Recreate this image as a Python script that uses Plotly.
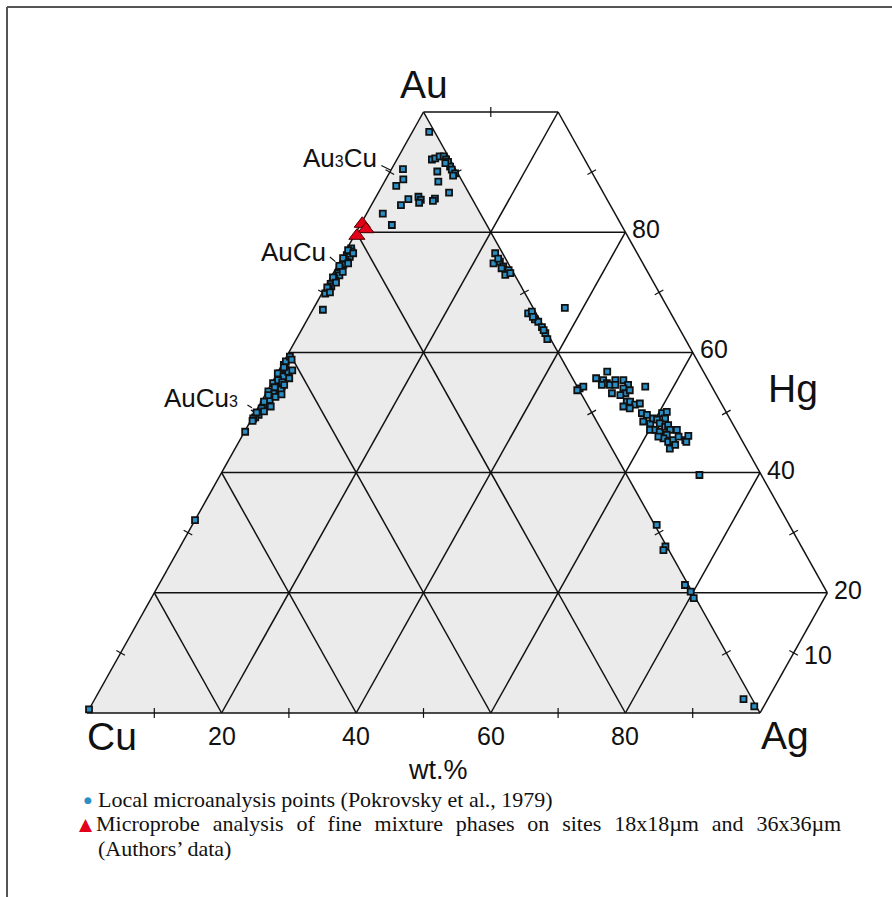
import plotly.graph_objects as go

# ---------------- data ----------------
levels = [0, 20, 40, 60, 80, 100]          # lattice levels (wt.%)
MAXSUM = 120                               # Au+Ag(Hg) limit of the drawn lattice
base_ticks = [20, 40, 60, 80]
right_ticks = [80, 60, 40, 20]
right_mid_tick = [10]

# Local microanalysis points (Pokrovsky et al., 1979): Au wt.% and Ag(+Hg) wt.%
loc_au = [96.7, 92.1, 92.3, 92.6, 92.6, 92.1, 91.7, 90.9, 90.4, 89.8, 90.1, 88.4,
          90.5, 88.8, 87.7, 85.5, 84.5, 85.9, 85.4, 84.9, 85.6, 85.2, 86.6, 83.1,
          81.2, 91.5, 89.4,
          77.3, 76.8, 76.2, 75.9, 75.4, 75.0, 74.6, 74.1, 73.7, 73.2, 72.8, 72.3,
          71.9, 71.4, 71.0, 70.6, 70.2, 69.8, 67.1,
          77.0, 76.5, 75.7, 74.8, 74.4, 73.4, 72.5, 71.6, 70.8, 70.0,
          57.9, 56.5, 56.5, 56.0, 54.9, 55.4, 54.3, 53.2, 53.5, 52.1, 51.3, 50.7,
          49.6, 49.2, 49.0, 58.5, 59.3, 57.2, 56.8, 55.0, 53.8, 52.6, 51.8, 50.2,
          54.2, 57.5, 52.9, 58.8, 57.0, 55.7, 54.6, 53.0, 51.0, 50.0, 48.6,
          46.8, 32.1, 0.6,
          76.5, 74.8, 75.1, 74.3, 73.7, 72.9, 74.0, 75.6, 73.2,
          66.5, 66.8, 65.5, 65.1, 64.2, 63.2, 62.2, 65.9, 63.7, 67.4,
          54.0, 54.3, 53.7, 56.8, 55.4, 54.9, 54.6, 54.6, 55.4, 54.6, 55.4, 54.6,
          54.0, 53.2, 53.2, 53.7, 54.3, 51.8, 51.8, 51.3, 51.5, 51.0, 50.7, 49.9,
          49.6, 48.5, 48.2, 49.0, 48.8, 49.9, 50.1, 49.0, 48.2, 47.1, 47.1, 46.8,
          47.6, 47.9, 47.1, 46.3, 45.7, 46.0, 45.1, 45.4, 47.1, 46.0, 44.0, 44.6,
          45.4, 46.1, 45.1, 55.7, 52.9, 39.6,
          31.3, 27.7, 27.1, 21.3, 19.1, 20.2, 2.3, 1.1]
loc_ag = [2.5, 5.2, 5.6, 6.1, 6.7, 7.3, 7.8, 8.5, 9.0, 9.8, 7.0, 8.0,
          1.7, 2.6, 2.1, 5.0, 4.4, 6.3, 6.9, 6.9, 8.9, 8.8, 10.5, 2.4,
          4.7, 7.5, 9.7,
          0.6, 0.9, 0.5, 1.1, 0.7, 1.2, 0.8, 0.5, 1.0, 0.7, 1.1, 0.6,
          0.9, 0.5, 0.8, 0.6, 0.9, 0.5, 1.5,
          0.3, 1.3, 0.2, 1.4, 0.3, 1.3, 0.3, 1.2, 0.3, 1.1,
          0.3, 0.4, 0.1, 1.2, 0.2, 0.7, 1.8, 1.1, 0.2, 1.1, 0.6, 0.6,
          0.7, 0.4, 0.2, 0.3, 0.5, 0.9, 1.5, 1.5, 1.9, 1.7, 0.4, 1.2,
          0.8, 0.5, 0.5, 1.0, 2.0, 2.2, 2.0, 2.4, 1.8, 0.2, 0.3,
          0.1, 0.0, 0.0,
          22.4, 23.0, 23.8, 24.7, 25.8, 25.7, 24.6, 23.3, 26.3,
          32.3, 32.7, 33.8, 34.5, 35.5, 36.5, 37.3, 33.3, 36.0, 37.3,
          46.2, 46.6, 46.0, 48.9, 49.0, 49.8, 49.2, 50.4, 50.8, 51.2, 52.0, 53.1,
          52.7, 51.4, 53.4, 53.8, 55.8, 54.3, 54.8, 55.8, 56.4, 54.2, 55.3, 57.5,
          58.4, 58.4, 59.6, 59.6, 60.3, 60.5, 61.1, 61.4, 61.0, 60.1, 60.9, 61.7,
          62.1, 62.4, 63.1, 63.0, 62.8, 61.9, 63.8, 64.4, 64.1, 64.9, 64.6, 65.1,
          66.2, 66.3, 66.5, 47.8, 52.8, 71.2,
          69.0, 72.1, 72.1, 78.2, 80.6, 79.6, 96.4, 98.6]

# Microprobe analysis of fine mixture phases (authors' data)
probe_au = [81.4, 80.5, 79.4]
probe_ag = [0.2, 1.2, 0.4]

# Phase labels: name and Au wt.%
phase_names = ["Au<span style='font-size:16px'>3</span>Cu", "AuCu",
               "AuCu<span style='font-size:16px'>3</span>"]
phase_au = [90.3, 75.6, 50.8]

vertex_labels = ["Cu", "Au", "Ag"]
legend_lines = ["Local microanalysis points (Pokrovsky et al., 1979)",
                "Microprobe analysis of fine mixture phases on sites 18x18µm and 36x36µm",
                "(Authors’ data)"]


def to_xy(au, ag):
    return [g + a / 2 for a, g in zip(au, ag)], list(au)


W, H = 892, 897
fig = go.Figure()

# gray Cu-Au-Ag triangle
tx, ty = to_xy([0, 100, 0, 0], [0, 0, 100, 0])
fig.add_trace(go.Scatter(x=tx, y=ty, mode="lines", fill="toself",
                         fillcolor="#ebebeb", line=dict(width=0),
                         hoverinfo="skip", showlegend=False))

# lattice lines
gau, gag = [], []
for L in levels:
    gau += [L, L, None]; gag += [0, min(100, MAXSUM - L), None]          # const Au
    gau += [0, min(100, MAXSUM - L), None]; gag += [L, L, None]          # const Ag
for S in range(20, MAXSUM + 1, 20):                                      # const Au+Ag
    gau += [max(0, S - 100), min(100, S), None]
    gag += [min(S, 100), max(0, S - 100), None]
gx = [None if g is None else g + a / 2 for a, g in zip(gau, gag)]
gy = gau
fig.add_trace(go.Scatter(x=gx, y=gy, mode="lines",
                         line=dict(color="#111111", width=1.5),
                         hoverinfo="skip", showlegend=False))

# small direction ticks at the midpoints of the boundary edges
step = levels[1]
mids = [l + step / 2 for l in levels[:-1]]
tk_au, tk_ag, tk_ang = [], [], []
for m in mids:
    tk_au.append(0); tk_ag.append(m); tk_ang.append(0)                 # base (Cu-Ag)
    tk_au.append(m); tk_ag.append(0); tk_ang.append(-61)               # Cu-Au edge
    tk_au.append(m); tk_ag.append(100 - m); tk_ang.append(61)          # Au-Ag edge
    if m > step:
        tk_au.append(m); tk_ag.append(MAXSUM - m); tk_ang.append(61)   # outer right edge
tk_au += [100, step / 2]; tk_ag += [step / 2, 100]; tk_ang += [0, -61]  # top edge, Ag edge
tkx, tky = to_xy(tk_au, tk_ag)
fig.add_trace(go.Scatter(x=tkx, y=tky, mode="markers", hoverinfo="skip", showlegend=False,
                         marker=dict(symbol="line-ns-open", size=7, angle=tk_ang,
                                     color="#111111",
                                     line=dict(color="#111111", width=1.2))))

lx, ly = to_xy(loc_au, loc_ag)
fig.add_trace(go.Scatter(
    x=lx, y=ly, mode="markers", showlegend=False,
    name=legend_lines[0],
    marker=dict(symbol="square", size=6, color="#2b8fc6",
                line=dict(color="#111111", width=1.8))))

px_, py_ = to_xy(probe_au, probe_ag)
fig.add_trace(go.Scatter(
    x=px_, y=py_, mode="markers", showlegend=False,
    name=legend_lines[1],
    marker=dict(symbol="triangle-up", size=14, color="#e3001b",
                line=dict(color="#500000", width=1))))

ann = []
sans = "Liberation Sans, Arial, sans-serif"
serif = "Liberation Serif, Times New Roman, serif"
# vertex labels
ann.append(dict(x=0, y=0, text=vertex_labels[0], xanchor="left", yanchor="middle",
                xshift=-1, yshift=-23, font=dict(size=39, family=sans, color="#111")))
ann.append(dict(x=50, y=100, text=vertex_labels[1], xanchor="center", yanchor="middle",
                yshift=28, font=dict(size=39, family=sans, color="#111")))
ann.append(dict(x=100, y=0, text=vertex_labels[2], xanchor="left", yanchor="middle",
                xshift=0, yshift=-22, font=dict(size=39, family=sans, color="#111")))
ann.append(dict(x=101, y=54, text="Hg", xanchor="left", yanchor="middle",
                font=dict(size=39, family=sans, color="#111")))
# bottom ticks
for t in base_ticks:
    ann.append(dict(x=t, y=0, text=str(t), xanchor="center", yanchor="middle",
                    yshift=-23, font=dict(size=25, family=sans, color="#111")))
# right ticks
for t in right_ticks:
    ann.append(dict(x=MAXSUM - t / 2, y=t, text=str(t), xanchor="left", yanchor="middle",
                    xshift=6, yshift=3, font=dict(size=25, family=sans, color="#111")))
for t in right_mid_tick:
    ann.append(dict(x=100 + t / 2, y=t, text=str(t), xanchor="left", yanchor="middle",
                    xshift=9, yshift=-2, font=dict(size=25, family=sans, color="#111")))
ann.append(dict(x=52.15, y=-9.5, text="wt.%", xanchor="center", yanchor="middle",
                font=dict(size=27, family=sans, color="#111")))
# phase labels with leaders
shifts = [(-13, 12), (-14, 7), (-19, 10)]
leaders = [(0, 0, -10, -5), (-6, -3, -6, -5), (-6, 0, -5, -3)]
for name, a, (xs, ys), (lxs, lys, ax, ay) in zip(phase_names, phase_au, shifts, leaders):
    ann.append(dict(x=a / 2, y=a, text=name, showarrow=False, xanchor="right",
                    yanchor="middle", xshift=xs, yshift=ys,
                    font=dict(size=26, family=sans, color="#111")))
    ann.append(dict(x=a / 2, y=a, text="", showarrow=True, arrowhead=0,
                    arrowwidth=1.2, arrowcolor="#111", ax=ax, ay=ay,
                    xshift=lxs, yshift=lys))
for a in ann:
    a.setdefault("showarrow", False)
    a.setdefault("xref", "x")
    a.setdefault("yref", "y")
    a.setdefault("borderpad", 0)

# legend (key glyphs + text) in paper coordinates; line 2 is justified (wider word gaps)
leg_font = dict(family=serif, size=22, color="#111")
leg_texts = [legend_lines[0], legend_lines[1].replace(" ", " \u2004"), legend_lines[2]]
leg_rows = [(97, 799), (95, 823.5), (97, 848)]
for txt, (lxp, lyp) in zip(leg_texts, leg_rows):
    ann.append(dict(xref="paper", yref="paper", x=lxp / W, y=1 - lyp / H, text=txt,
                    xanchor="left", yanchor="middle", showarrow=False, borderpad=0,
                    font=leg_font))
ann.append(dict(xref="paper", yref="paper", x=88 / W, y=1 - 800 / H,
                text="●", xanchor="center", yanchor="middle", borderpad=0,
                showarrow=False, font=dict(family="DejaVu Sans", size=9, color="#2b8fc6")))
ann.append(dict(xref="paper", yref="paper", x=86 / W, y=1 - 823.5 / H,
                text="▲", xanchor="center", yanchor="middle", borderpad=0,
                showarrow=False, font=dict(family="DejaVu Sans", size=17, color="#e3001b")))

fig.update_layout(
    width=W, height=H, autosize=False,
    margin=dict(l=0, r=0, t=0, b=0),
    paper_bgcolor="white", plot_bgcolor="white",
    xaxis=dict(visible=False, range=[-87 / 6.73, (W - 87) / 6.73], fixedrange=True),
    yaxis=dict(visible=False, range=[(713 - H) / 6.01, 713 / 6.01], fixedrange=True),
    annotations=ann,
    showlegend=False,
    shapes=[
        dict(type="line", xref="paper", yref="paper", x0=7 / W, x1=1, y0=1 - 7 / H, y1=1 - 7 / H,
             line=dict(color="#555", width=2)),
        dict(type="line", xref="paper", yref="paper", x0=7 / W, x1=7 / W, y0=0, y1=1 - 7 / H,
             line=dict(color="#555", width=2)),
    ],
)

fig.write_html("out.html")
